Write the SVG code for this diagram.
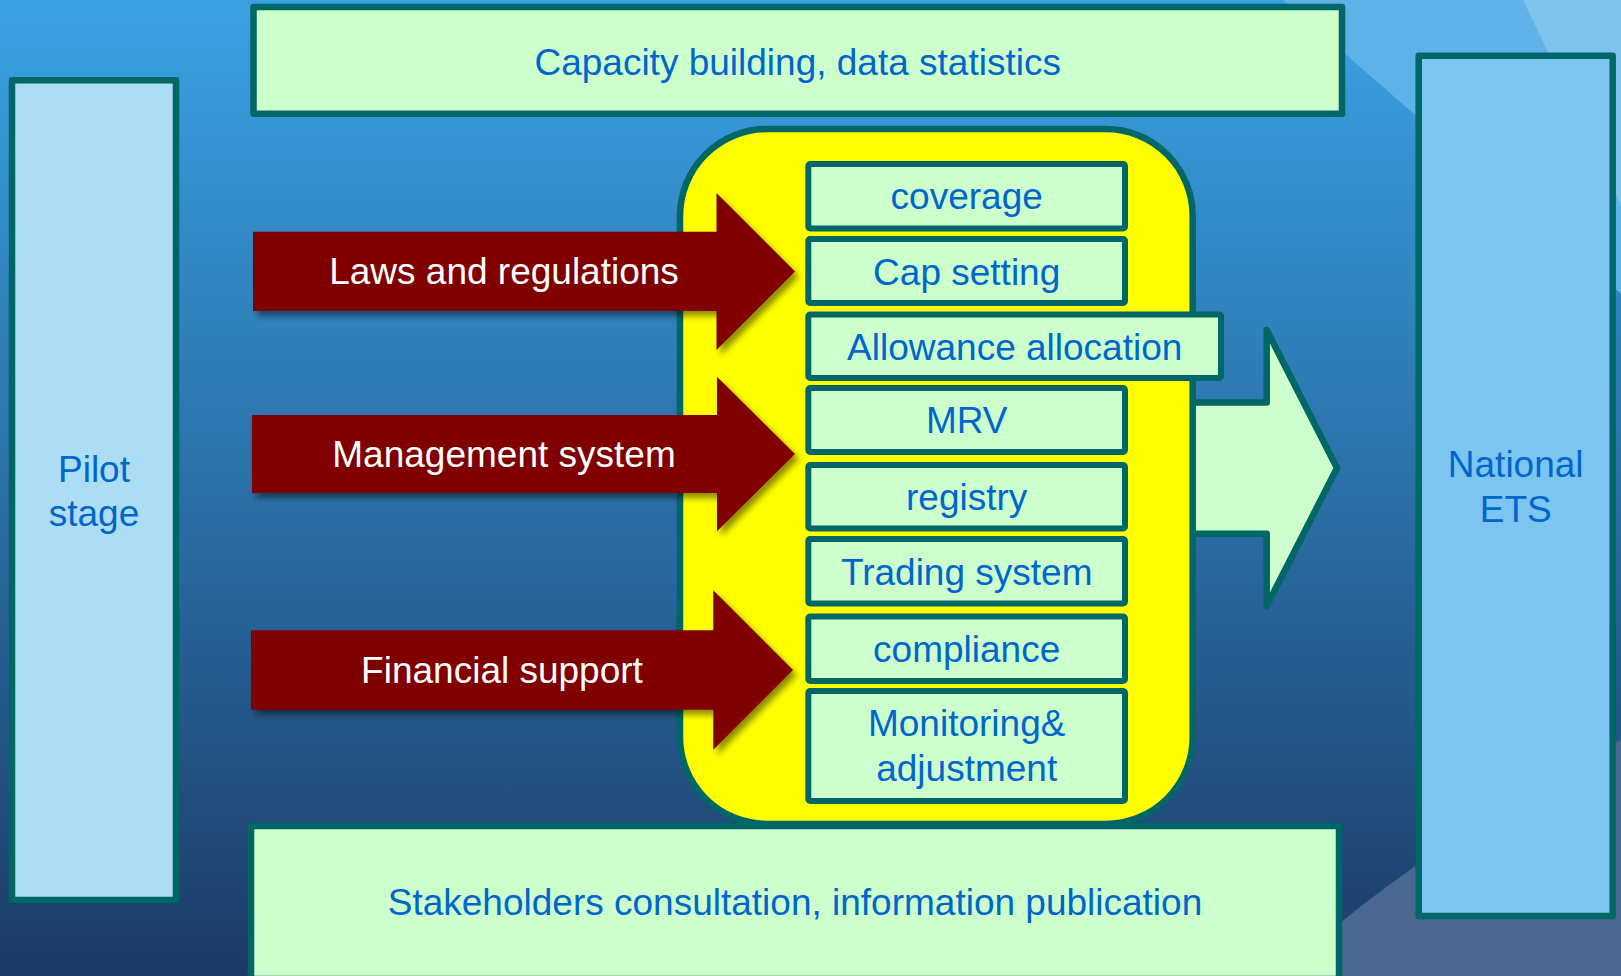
<svg xmlns="http://www.w3.org/2000/svg" width="1621" height="976" viewBox="0 0 1621 976">
<defs>
<linearGradient id="bg" x1="0" y1="0" x2="0" y2="1">
<stop offset="0" stop-color="#3AA2E3"/>
<stop offset="0.5" stop-color="#2B70A8"/>
<stop offset="1" stop-color="#1C3A66"/>
</linearGradient>
<filter id="sh" x="-10%" y="-10%" width="130%" height="130%">
<feDropShadow dx="4" dy="5" stdDeviation="3" flood-color="#000" flood-opacity="0.45"/>
</filter>
<style>
.frame{stroke:#006666;stroke-width:6.5;stroke-linejoin:round}
.lg{fill:#CCFFCC}
.item{fill:#CCFFCC;stroke:#006666;stroke-width:6;stroke-linejoin:round}
.blue{fill:#0066CC;font-family:"Liberation Sans",Arial,sans-serif;font-size:37px;text-anchor:middle}
.white{fill:#FFFFFF;font-family:"Liberation Sans",Arial,sans-serif;font-size:37px;text-anchor:middle}
.red{fill:#800000;filter:url(#sh)}
</style>
</defs>
<g id="background">
<rect x="0" y="0" width="1621" height="976" fill="url(#bg)"/>
<polygon points="1283,0 1621,0 1621,294" fill="#5FB2E7"/>
<polygon points="1523,0 1621,0 1621,205" fill="#7EC3EB"/>
<path d="M1280 976 Q1400 860 1621 740 L1621 976 Z" fill="#4A6890"/>
</g>
<g id="capacity">
<rect class="frame lg" x="253.5" y="7" width="1088.5" height="106.7"/>
<text class="blue" x="797.7" y="75">Capacity building, data statistics</text>
</g>
<g id="pilot">
<rect class="frame" fill="#ADDCF5" x="12" y="80.3" width="164" height="819.7"/>
<text class="blue" x="94" y="481.7">Pilot</text>
<text class="blue" x="94" y="526">stage</text>
</g>
<g id="national">
<rect class="frame" fill="#7BC5F0" x="1418.7" y="55.8" width="194" height="860.2"/>
<text class="blue" x="1515.7" y="477.3">National</text>
<text class="blue" x="1515.7" y="522.3">ETS</text>
</g>
<g id="connectors">
<polygon id="to-national" class="frame" fill="#CCFFCC" stroke-linejoin="miter" points="1150,402.5 1266.7,402.5 1266.7,330 1337,468 1266.7,606 1266.7,533.7 1150,533.7"/>
</g>
<g id="core">
<rect class="frame" fill="#FFFF00" x="680" y="129" width="512.7" height="695" rx="87" ry="87"/>
</g>
<g id="stakeholders">
<rect class="frame lg" x="251" y="826" width="1088" height="153"/>
<text class="blue" x="795" y="915">Stakeholders consultation, information publication</text>
</g>
<g id="coverage">
<rect class="item" x="808.3" y="164" width="316.7" height="64.5" rx="2"/>
<text class="blue" x="966.7" y="209.3">coverage</text>
</g>
<g id="cap-setting">
<rect class="item" x="808.3" y="239" width="316.7" height="64" rx="2"/>
<text class="blue" x="966.7" y="284.5">Cap setting</text>
</g>
<g id="allowance">
<rect class="item" x="808.3" y="314.5" width="412.7" height="63.5" rx="2"/>
<text class="blue" x="1014.7" y="359.5">Allowance allocation</text>
</g>
<g id="mrv">
<rect class="item" x="808.3" y="388" width="316.7" height="64" rx="2"/>
<text class="blue" x="966.7" y="433.3">MRV</text>
</g>
<g id="registry">
<rect class="item" x="808.3" y="465" width="316.7" height="63.5" rx="2"/>
<text class="blue" x="966.7" y="509.5">registry</text>
</g>
<g id="trading">
<rect class="item" x="808.3" y="539" width="316.7" height="64.5" rx="2"/>
<text class="blue" x="966.7" y="584.5">Trading system</text>
</g>
<g id="compliance">
<rect class="item" x="808.3" y="616.5" width="316.7" height="64.5" rx="2"/>
<text class="blue" x="966.7" y="661.8">compliance</text>
</g>
<g id="monitoring">
<rect class="item" x="808.3" y="691" width="316.7" height="110" rx="2"/>
<text class="blue" x="966.7" y="736.4">Monitoring&amp;</text>
<text class="blue" x="966.7" y="781.4">adjustment</text>
</g>
<g id="laws">
<path class="red" d="M253 231.7 H716.5 V193 L795 271.5 L716.5 350 V311 H253 Z"/>
<text class="white" x="504" y="284">Laws and regulations</text>
</g>
<g id="management">
<path class="red" d="M252 415 H717 V376.7 L795 454 L717 531.3 V493 H252 Z"/>
<text class="white" x="504" y="466.7">Management system</text>
</g>
<g id="financial">
<path class="red" d="M251 630.3 H713.3 V590.3 L793 670 L713.3 749.7 V709.7 H251 Z"/>
<text class="white" x="502" y="683">Financial support</text>
</g>
</svg>
